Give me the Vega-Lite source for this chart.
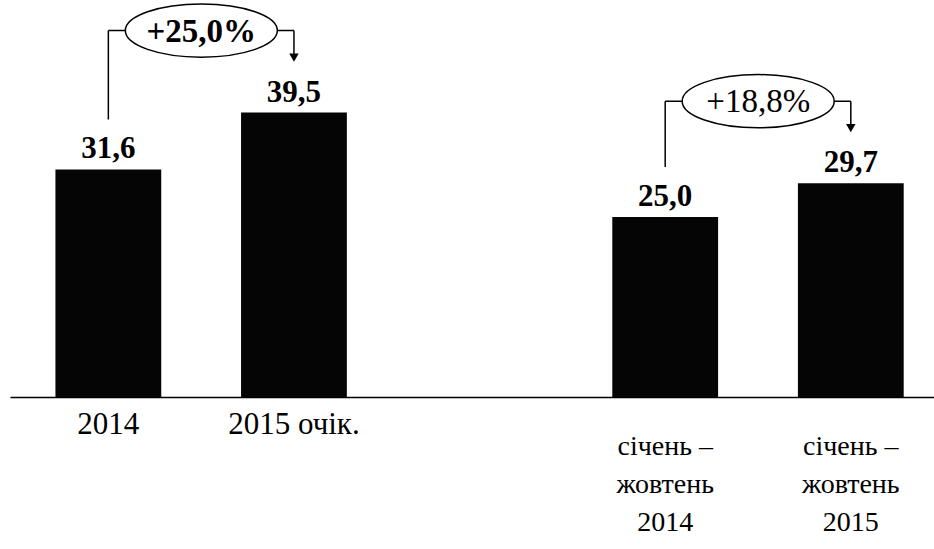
{
  "$schema": "https://vega.github.io/schema/vega-lite/v6.json",
  "width": 924,
  "height": 397,
  "autosize": {"type": "none"},
  "padding": {"left": 10, "right": 0, "top": 0, "bottom": 152},
  "background": "white",
  "config": {
    "view": {"stroke": null},
    "font": "'Times New Roman', 'Liberation Serif', serif",
    "text": {"font": "'Times New Roman', 'Liberation Serif', serif"},
    "locale": {"number": {"decimal": ",", "thousands": " ", "grouping": [3], "currency": ["", " грн"]}},
    "axisX": {"title": null, "labels": false, "ticks": false, "grid": false, "domainColor": "#000000", "domainWidth": 1.5}
  },
  "datasets": {
    "bars": [
      {"key": "2014", "label": "2014", "value": 31.6},
      {"key": "2015 очік.", "label": "2015 очік.", "value": 39.5},
      {"key": "січень – жовтень 2014", "label": ["січень –", "жовтень", "2014"], "value": 25.0},
      {"key": "січень – жовтень 2015", "label": ["січень –", "жовтень", "2015"], "value": 29.7}
    ],
    "changes": [
      {"from": "2014", "to": "2015 очік.", "fromValue": 31.6, "toValue": 39.5, "change": 0.25},
      {"from": "січень – жовтень 2014", "to": "січень – жовтень 2015", "fromValue": 25.0, "toValue": 29.7, "change": 0.188}
    ]
  },
  "layer": [
    {
      "data": {"name": "bars"},
      "mark": {"type": "bar", "color": "#050505"},
      "encoding": {
        "x": {"field": "key", "type": "nominal", "title": null, "scale": {"type": "band", "domain": ["2014", "2015 очік.", "gap", "січень – жовтень 2014", "січень – жовтень 2015"], "paddingInner": 0.43, "paddingOuter": 0.204, "align": 0.6}},
        "y": {"field": "value", "type": "quantitative", "axis": null, "scale": {"domain": [0, 55.14], "nice": false, "zero": true}}
      }
    },
    {
      "data": {"name": "bars"},
      "mark": {"type": "text", "dy": -11, "baseline": "alphabetic", "fontSize": 31, "fontWeight": "bold", "color": "#000000"},
      "encoding": {
        "x": {"field": "key", "type": "nominal", "title": null},
        "y": {"field": "value", "type": "quantitative", "axis": null},
        "text": {"field": "value", "type": "quantitative", "format": ".1f"}
      }
    },
    {
      "data": {"name": "changes"},
      "mark": {"type": "rule", "color": "#000000", "strokeWidth": 1.5, "yOffset": -50, "y2Offset": -82},
      "encoding": {
        "x": {"field": "from", "type": "nominal", "title": null},
        "y": {"field": "fromValue", "type": "quantitative", "axis": null},
        "y2": {"field": "toValue"}
      }
    },
    {
      "data": {"name": "changes"},
      "mark": {"type": "rule", "color": "#000000", "strokeWidth": 1.5, "yOffset": -82},
      "encoding": {
        "x": {"field": "from", "type": "nominal", "title": null},
        "x2": {"field": "to"},
        "y": {"field": "toValue", "type": "quantitative", "axis": null}
      }
    },
    {
      "data": {"name": "changes"},
      "mark": {"type": "rule", "color": "#000000", "strokeWidth": 1.5, "yOffset": -82, "y2Offset": -57},
      "encoding": {
        "x": {"field": "to", "type": "nominal", "title": null},
        "y": {"field": "toValue", "type": "quantitative", "axis": null},
        "y2": {"field": "toValue"}
      }
    },
    {
      "data": {"name": "changes"},
      "mark": {"type": "point", "shape": "triangle-down", "filled": true, "color": "#000000", "opacity": 1, "size": 90, "yOffset": -55},
      "encoding": {
        "x": {"field": "to", "type": "nominal", "title": null},
        "y": {"field": "toValue", "type": "quantitative", "axis": null}
      }
    },
    {
      "data": {"name": "changes"},
      "mark": {"type": "point", "shape": "M-1,0C-1,-0.1933,-0.5523,-0.35,0,-0.35C0.5523,-0.35,1,-0.1933,1,0C1,0.1933,0.5523,0.35,0,0.35C-0.5523,0.35,-1,0.1933,-1,0Z", "filled": true, "fill": "#ffffff", "stroke": "#000000", "strokeWidth": 1.5, "opacity": 1, "fillOpacity": 1, "size": 23104, "xOffset": 93, "yOffset": -82},
      "encoding": {
        "x": {"field": "from", "type": "nominal", "title": null},
        "y": {"field": "toValue", "type": "quantitative", "axis": null}
      }
    },
    {
      "data": {"name": "changes"},
      "transform": [{"filter": "datum.from == '2014'"}],
      "mark": {"type": "text", "baseline": "middle", "align": "center", "fontSize": 33, "fontWeight": "bold", "color": "#000000", "xOffset": 93, "yOffset": -81},
      "encoding": {
        "x": {"field": "from", "type": "nominal", "title": null},
        "y": {"field": "toValue", "type": "quantitative", "axis": null},
        "text": {"field": "change", "type": "quantitative", "format": "+.1%"}
      }
    },
    {
      "data": {"name": "changes"},
      "transform": [{"filter": "datum.from != '2014'"}],
      "mark": {"type": "text", "baseline": "middle", "align": "center", "fontSize": 33, "fontWeight": "normal", "color": "#000000", "xOffset": 93, "yOffset": -81},
      "encoding": {
        "x": {"field": "from", "type": "nominal", "title": null},
        "y": {"field": "toValue", "type": "quantitative", "axis": null},
        "text": {"field": "change", "type": "quantitative", "format": "+.1%"}
      }
    },
    {
      "data": {"name": "bars"},
      "transform": [{"filter": "!isArray(datum.label)"}],
      "mark": {"type": "text", "baseline": "alphabetic", "align": "center", "fontSize": 31, "color": "#000000", "yOffset": 37},
      "encoding": {
        "x": {"field": "key", "type": "nominal", "title": null},
        "y": {"datum": 0, "type": "quantitative", "axis": null},
        "text": {"field": "label", "type": "nominal"}
      }
    },
    {
      "data": {"name": "bars"},
      "transform": [{"filter": "isArray(datum.label)"}],
      "mark": {"type": "text", "baseline": "top", "align": "center", "fontSize": 28, "lineHeight": 38, "color": "#000000", "yOffset": 36},
      "encoding": {
        "x": {"field": "key", "type": "nominal", "title": null},
        "y": {"datum": 0, "type": "quantitative", "axis": null},
        "text": {"field": "label", "type": "nominal"}
      }
    }
  ]
}
